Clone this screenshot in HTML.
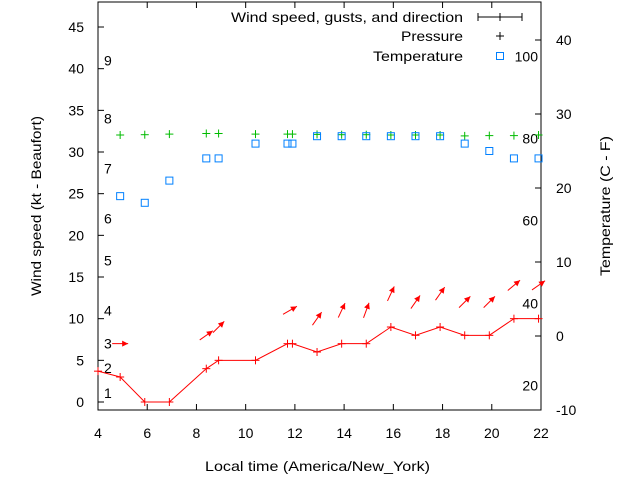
<!DOCTYPE html>
<html><head><meta charset="utf-8"><style>
body{margin:0;background:#fff;}
svg text{font-family:"Liberation Sans",sans-serif;font-size:14px;fill:#000;}
</style></head><body>
<svg id="chart" width="640" height="480" xmlns="http://www.w3.org/2000/svg">
<rect width="640" height="480" fill="#fff"/>
<g id="axes"></g>
<g id="series"></g>
<g id="legend">
<text x="231" y="22" textLength="232" lengthAdjust="spacingAndGlyphs">Wind speed, gusts, and direction</text>
<text x="401" y="41" textLength="62" lengthAdjust="spacingAndGlyphs">Pressure</text>
<text x="373" y="61" textLength="90" lengthAdjust="spacingAndGlyphs">Temperature</text>
</g>
<text x="205" y="471" textLength="225" lengthAdjust="spacingAndGlyphs">Local time (America/New_York)</text>
<text transform="translate(41,206) rotate(-90)" text-anchor="middle" textLength="180" lengthAdjust="spacingAndGlyphs">Wind speed (kt - Beaufort)</text>
<text transform="translate(610,206) rotate(-90)" text-anchor="middle" textLength="140" lengthAdjust="spacingAndGlyphs">Temperature (C - F)</text>
</svg>
<script>
const hours = [4.9,5.9,6.9,8.4,8.9,10.4,11.7,11.9,12.9,13.9,14.9,15.9,16.9,17.9,18.9,19.9,20.9,21.9];
const windHours = [4.0,4.9,5.9,6.9,8.4,8.9,10.4,11.7,11.9,12.9,13.9,14.9,15.9,16.9,17.9,18.9,19.9,20.9,21.9];
const windSpeed = [3.7,3,0,0,4,5,5,7,7,6,7,7,9,8,9,8,8,10,10];
const temperature = [18.9,18,21,24,24,26,26,26,27,27,27,27,27,27,26,25,24,24];
const pressure = [1016,1016.1,1016.3,1016.5,1016.5,1016.3,1016.3,1016.3,1016.2,1016.1,1016.1,1016,1016,1016,1015.7,1015.8,1015.8,1016];
const gustHours = [4.9,8.4,8.9,11.8,12.9,13.9,14.9,15.9,16.9,17.9,18.9,19.9,20.9,21.9];
const gustSpeed = [7,8,9,11,10,11,11,13,12,13,12,12,14,14];
const gustDir = [0,35,45,30,55,65,70,65,55,55,45,45,40,35];
const xTicks = [4,6,8,10,12,14,16,18,20,22];
const yTicks = [0,5,10,15,20,25,30,35,40,45];
const y2Ticks = [-10,0,10,20,30,40];
const beaufortLabels = ["1","2","3","4","5","6","7","8","9"];
const beaufortKt = [1.1,4.1,7,11,17,22,28,34,41];
const fahrenheitLabels = ["20","40","60","80","100"];
const fahrenheitC = [-6.7,4.4,15.6,26.7,37.8];

const X0=98,X1=541,YT=2,YB=410;
const xs=h=>X0+(h-4)/18*(X1-X0);
const ys=v=>402-v*8.333;
const y2s=v=>336-v*7.4;
const ps=p=>135-(p-1016)*3;
const NS="http://www.w3.org/2000/svg";
function mk(tag,attrs,parent){const e=document.createElementNS(NS,tag);for(const k in attrs)e.setAttribute(k,attrs[k]);parent.appendChild(e);return e;}
const ax=document.getElementById('axes'), sr=document.getElementById('series');
const box=mk('rect',{x:X0,y:YT,width:X1-X0,height:YB-YT,fill:'none',stroke:'#000','stroke-width':1},ax);


xTicks.forEach(t=>{const x=xs(t);
 mk('line',{x1:x,x2:x,y1:YB,y2:YB-6,stroke:'#000'},ax);
 mk('line',{x1:x,x2:x,y1:YT,y2:YT+6,stroke:'#000'},ax);
 const tx=mk('text',{x:x,y:438,'text-anchor':'middle'},ax);tx.textContent=t;
 
 });
yTicks.forEach(t=>{const y=ys(t);
 mk('line',{x1:X0,x2:X0+6,y1:y,y2:y,stroke:'#000'},ax);
 const tx=mk('text',{x:84,y:y+5,'text-anchor':'end'},ax);tx.textContent=t;
 
 });
y2Ticks.forEach(t=>{const y=y2s(t);
 mk('line',{x1:X1,x2:X1-6,y1:y,y2:y,stroke:'#000'},ax);
 const tx=mk('text',{x:556,y:y+5},ax);tx.textContent=t;
 
 });
beaufortLabels.forEach((l,i)=>{const tx=mk('text',{x:104,y:ys(beaufortKt[i])+5},ax);tx.textContent=l;
 
 });
fahrenheitLabels.forEach((l,i)=>{const tx=mk('text',{x:538,y:y2s(fahrenheitC[i])+5,'text-anchor':'end'},ax);tx.textContent=l;
 
 });
function plus(x,y,c,p,name){const g=mk('g',{stroke:c,'stroke-width':1},p);
 
 
 mk('line',{x1:x-4,x2:x+4,y1:y,y2:y},g);mk('line',{x1:x,x2:x,y1:y-4,y2:y+4},g);}
const wl=mk('polyline',{points:windHours.map((h,i)=>xs(h)+','+ys(windSpeed[i])).join(' '),fill:'none',stroke:'#f00','stroke-width':1},sr);


windHours.forEach((h,i)=>plus(xs(h),ys(windSpeed[i]),'#f00',sr,'wind-speed-point'));
gustHours.forEach((h,i)=>{const cx=xs(h),cy=ys(gustSpeed[i]),a=gustDir[i]*Math.PI/180,L=8;
 const dx=Math.cos(a)*L,dy=-Math.sin(a)*L;
 const g=mk('g',{},sr);
 
 
 mk('line',{x1:cx-dx,y1:cy-dy,x2:cx+dx,y2:cy+dy,stroke:'#f00','stroke-width':1},g);
 const hx=cx+dx,hy=cy+dy,ux=dx/L,uy=dy/L,px=-uy,py=ux;
 mk('polygon',{points:`${hx},${hy} ${hx-ux*6+px*3},${hy-uy*6+py*3} ${hx-ux*6-px*3},${hy-uy*6-py*3}`,fill:'#f00'},g);});
hours.forEach((h,i)=>plus(xs(h),ps(pressure[i]),'#0b0',sr,'pressure-point'));
hours.forEach((h,i)=>{const r=mk('rect',{x:xs(h)-3.5,y:y2s(temperature[i])-3.5,width:7,height:7,fill:'none',stroke:'#0080ff','stroke-width':1},sr);
 
 });
const lg=document.getElementById('legend');
mk('line',{x1:478,x2:522,y1:17,y2:17,stroke:'#000'},lg);
mk('line',{x1:478,x2:478,y1:13,y2:21,stroke:'#000'},lg);
mk('line',{x1:522,x2:522,y1:13,y2:21,stroke:'#000'},lg);
mk('line',{x1:500,x2:500,y1:13,y2:21,stroke:'#000'},lg);
plus(500,36,'#000',lg,'legend-pressure-symbol');
const ls=mk('rect',{x:496.5,y:52.5,width:7,height:7,fill:'none',stroke:'#0080ff'},lg);


</script>
</body></html>
